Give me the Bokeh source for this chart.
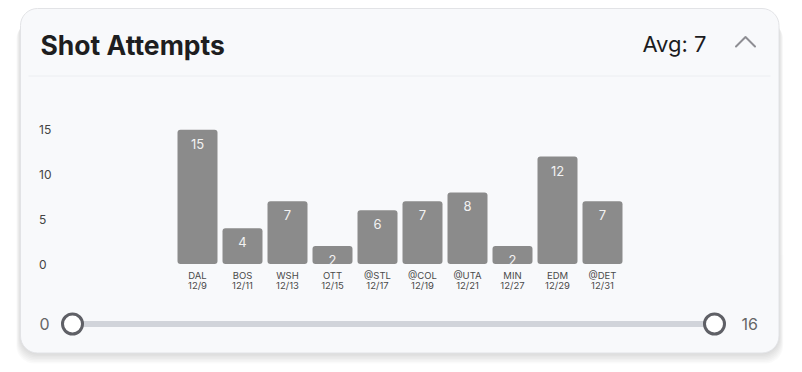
from bokeh.plotting import figure
from bokeh.models import Range1d, ColumnDataSource
from bokeh.core.properties import value
from bokeh.embed import file_html
from bokeh.resources import INLINE

# ---- data ----
title_text = "Shot Attempts"
avg_text = "Avg: 7"
opponents = ["DAL", "BOS", "WSH", "OTT", "@STL", "@COL", "@UTA", "MIN", "EDM", "@DET"]
dates = ["12/9", "12/11", "12/13", "12/15", "12/17", "12/19", "12/21", "12/27", "12/29", "12/31"]
shots = [15, 4, 7, 2, 6, 7, 8, 2, 12, 7]
y_ticks = [0, 5, 10, 15]
y_tick_labels = ["0", "5", "10", "15"]
slider_values = [0, 16]
slider_labels = ["0", "16"]

# ---- layout constants ----
W, H = 802, 372
FONT = value("Inter")
BG = "#f8f9fb"

x0_px, step_px = 197.0, 45.0          # first bar centre, bar pitch
zero_px, unit_px = 263.5, 8.95        # y=0 pixel, px per shot
sl_left, sl_right = 72.0, 714.0       # slider track ends

idx = list(range(len(shots)))

p = figure(width=W, height=H, output_backend="svg", toolbar_location=None,
           x_range=Range1d(-x0_px / step_px, (W - x0_px) / step_px),
           y_range=Range1d(-(H - zero_px) / unit_px, zero_px / unit_px),
           x_axis_location=None, y_axis_location=None, min_border=0)
p.grid.visible = False
p.outline_line_color = None
p.background_fill_color = "white"
p.border_fill_color = "white"

sl_span = slider_values[1] - slider_values[0]
sl_scale = sl_span / (sl_right - sl_left)
p.extra_x_ranges = {
    "px": Range1d(0, W),
    "slider": Range1d(slider_values[0] - sl_left * sl_scale,
                      slider_values[1] + (W - sl_right) * sl_scale),
}
p.extra_y_ranges = {"py": Range1d(H, 0)}
S = dict(x_range_name="px", y_range_name="py")

# ---- card with soft shadow ----
for k in range(8):
    p.quad(left=20 - k * 0.6, right=778.5 + k * 0.6, top=14 + k, bottom=352.5 + k * 1.5,
           fill_color="black", fill_alpha=0.018, line_color=None, border_radius=18, **S)
p.quad(left=20, right=778.5, top=8, bottom=352.5, fill_color=BG,
       line_color="#e2e3e6", line_width=1, border_radius=17, **S)

# header
p.segment(x0=[28], x1=[770], y0=[75.5], y1=[75.5], line_color="#eceef1", line_width=1, **S)
p.text(x=[40], y=[44.5], text=[title_text], text_font=FONT, text_font_size="26.5px",
       text_font_style="bold", text_color="#1e1e20", text_baseline="middle", **S)
p.text(x=[706], y=[43.7], text=[avg_text], text_font=FONT, text_font_size="22px",
       text_color="#1c1c1e", text_align="right", text_baseline="middle", **S)
p.line(x=[735.5, 745, 754.5], y=[46, 36.5, 46], line_color="#8e8e93", line_width=2,
       line_join="round", line_cap="round", **S)

# ---- bars ----
src = ColumnDataSource(dict(x=idx, top=shots, lab=[str(v) for v in shots],
                            opp=opponents, date=dates, zero=[0] * len(shots)))
p.vbar(x="x", top="top", bottom=0, width=40 / step_px, source=src,
       fill_color="#8b8b8b", line_color=None, border_radius=3)
p.text(x="x", y="top", text="lab", source=src, y_offset=14, text_font=FONT,
       text_font_size="13px", text_color="#f2f2f2", text_align="center",
       text_baseline="middle")
# mask value labels that spill below the bars' base
p.quad(left=[x0_px - 25], right=[x0_px + step_px * (len(shots) - 1) + 25],
       top=[zero_px + 0.2], bottom=[zero_px + 6.5], fill_color=BG, line_color=None, **S)

p.text(x="x", y="zero", text="opp", source=src, y_offset=11.5, text_font=FONT,
       text_font_size="9.5px", text_color="#4a4a4a", text_align="center",
       text_baseline="middle")
p.text(x="x", y="zero", text="date", source=src, y_offset=21.5, text_font=FONT,
       text_font_size="9.5px", text_color="#4a4a4a", text_align="center",
       text_baseline="middle")

# y tick labels
p.text(x=[38.5] * len(y_ticks), y=y_ticks, text=y_tick_labels, x_range_name="px",
       text_font=FONT, text_font_size="12px", text_color="#444444",
       text_align="left", text_baseline="middle")

# ---- range slider ----
SL = dict(x_range_name="slider", y_range_name="py")
p.segment(x0=[slider_values[0]], x1=[slider_values[1]], y0=[323.5], y1=[323.5],
          line_color="#d1d4da", line_width=6, **SL)
p.scatter(x=slider_values, y=[323.5, 323.5], size=20, fill_color="white",
          line_color="#5f6066", line_width=3, **SL)
p.text(x=[44], y=[323.5], text=[slider_labels[0]], text_font=FONT, text_font_size="16px",
       text_color="#666666", text_align="center", text_baseline="middle", **S)
p.text(x=[741], y=[323.5], text=[slider_labels[1]], text_font=FONT, text_font_size="16px",
       text_color="#666666", text_align="left", text_baseline="middle", **S)

open("out.html", "w").write(file_html(p, INLINE))
